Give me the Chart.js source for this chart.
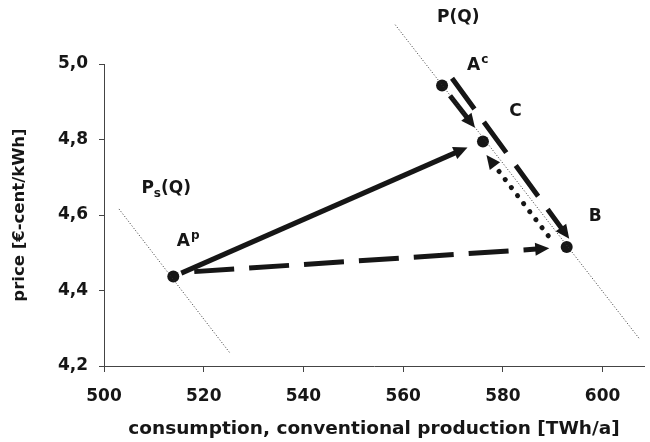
<!DOCTYPE html>
<html>
<head>
<meta charset="utf-8">
<script src="https://cdn.jsdelivr.net/npm/chart.js@4"></script>
<style>
  html, body { margin: 0; padding: 0; background: #fff; }
  #wrap { width: 650px; height: 442px; }
</style>
</head>
<body>
<div id="wrap"><canvas id="chart" width="650" height="442"></canvas></div>
<script>
// ticks
const xTicks = [500, 520, 540, 560, 580, 600];
const yTicks = [4.2, 4.4, 4.6, 4.8, 5.0];

// market states A^p, A^c, C, B  (quantity TWh/a, price ct/kWh)
const stateQ = [513.9, 567.8, 576.0, 592.8];
const stateP = [4.437, 4.943, 4.795, 4.515];

// price curves P(Q) and Ps(Q)
const demandQ = [558.4, 607.5];
const demandP = [5.104, 4.27];
const supplyQ = [503.0, 525.4];
const supplyP = [4.616, 4.232];

// arrows, [start, tip]
const arrowApCQ = [515.5, 572.9];   // A^p -> C, solid
const arrowApCP = [4.446, 4.779];
const arrowApBQ = [518.1, 589.3];   // A^p -> B, dashed
const arrowApBP = [4.450, 4.512];
const arrowAcCQ = [569.4, 574.4];   // A^c -> C
const arrowAcCP = [4.916, 4.831];
const arrowAcBQ = [569.8, 593.3];   // A^c -> B, dashed
const arrowAcBP = [4.962, 4.537];
const arrowBCQ = [589.1, 576.7];    // B -> C, dotted
const arrowBCP = [4.545, 4.759];

// text labels (left edge, vertical centre)
const labelText = ['P(Q)', 'A', 'C', 'B', 'P', 'A'];
const labelSup = ['', 'c', '', '', '', 'p'];
const labelSub = ['', '', '', '', 's', ''];
const labelRest = ['', '', '', '', '(Q)', ''];
const labelQ = [566.8, 572.8, 581.3, 597.2, 507.5, 514.6];
const labelP = [5.122, 4.996, 4.874, 4.596, 4.669, 4.530];

const FONT = 'DejaVu Sans';
const INK = '#161616';
const HEAD_L = 14, HEAD_W = 6.5;

const pts = (qs, ps) => qs.map((q, i) => ({ x: q, y: ps[i] }));

function arrowSet(qs, ps, dash, cap) {
  return {
    data: pts(qs, ps),
    arrow: true,
    borderColor: INK,
    borderWidth: 5,
    borderDash: dash,
    borderCapStyle: cap || 'butt',
    pointRadius: 0,
    fill: false,
    clip: false
  };
}

// shorten shafts so they end under the head, then draw heads
const arrowPlugin = {
  id: 'arrows',
  beforeDatasetsDraw(chart) {
    const xs = chart.scales.x, ys = chart.scales.y;
    chart.data.datasets.forEach((ds, i) => {
      if (!ds.arrow) return;
      const meta = chart.getDatasetMeta(i);
      const a = ds.data[0], b = ds.data[1];
      const x0 = xs.getPixelForValue(a.x), y0 = ys.getPixelForValue(a.y);
      const x1 = xs.getPixelForValue(b.x), y1 = ys.getPixelForValue(b.y);
      const len = Math.hypot(x1 - x0, y1 - y0);
      const ux = (x1 - x0) / len, uy = (y1 - y0) / len;
      meta.data[1].x = x1 - ux * HEAD_L * 0.7;
      meta.data[1].y = y1 - uy * HEAD_L * 0.7;
      if (meta.dataset) meta.dataset._path = undefined;
    });
  },
  afterDatasetsDraw(chart) {
    const ctx = chart.ctx;
    const xs = chart.scales.x, ys = chart.scales.y;
    ctx.save();
    ctx.fillStyle = INK;
    chart.data.datasets.forEach(ds => {
      if (!ds.arrow) return;
      const a = ds.data[0], b = ds.data[1];
      const x0 = xs.getPixelForValue(a.x), y0 = ys.getPixelForValue(a.y);
      const x1 = xs.getPixelForValue(b.x), y1 = ys.getPixelForValue(b.y);
      const len = Math.hypot(x1 - x0, y1 - y0);
      const ux = (x1 - x0) / len, uy = (y1 - y0) / len;
      ctx.beginPath();
      ctx.moveTo(x1, y1);
      ctx.lineTo(x1 - ux * HEAD_L - uy * HEAD_W, y1 - uy * HEAD_L + ux * HEAD_W);
      ctx.lineTo(x1 - ux * HEAD_L + uy * HEAD_W, y1 - uy * HEAD_L - ux * HEAD_W);
      ctx.closePath();
      ctx.fill();
    });
    ctx.restore();
  }
};

const labelPlugin = {
  id: 'labels',
  afterDraw(chart) {
    const ctx = chart.ctx;
    const xs = chart.scales.x, ys = chart.scales.y;
    ctx.save();
    ctx.fillStyle = INK;
    ctx.textBaseline = 'middle';
    ctx.textAlign = 'left';
    labelText.forEach((t, i) => {
      let x = xs.getPixelForValue(labelQ[i]);
      const y = ys.getPixelForValue(labelP[i]);
      ctx.font = 'bold 17px "' + FONT + '"';
      ctx.fillText(t, x, y);
      x += ctx.measureText(t).width;
      if (labelSup[i]) {
        ctx.font = 'bold 12px "' + FONT + '"';
        ctx.fillText(labelSup[i], x + 1, y - 6);
        x += ctx.measureText(labelSup[i]).width + 1;
      }
      if (labelSub[i]) {
        ctx.font = 'bold 12px "' + FONT + '"';
        ctx.fillText(labelSub[i], x, y + 5);
        x += ctx.measureText(labelSub[i]).width;
      }
      if (labelRest[i]) {
        ctx.font = 'bold 17px "' + FONT + '"';
        ctx.fillText(labelRest[i], x, y);
      }
    });
    ctx.restore();
  }
};

const ctx = document.getElementById('chart').getContext('2d');
new Chart(ctx, {
  type: 'line',
  data: {
    datasets: [
      { data: pts(demandQ, demandP), borderColor: '#333', borderWidth: 1, borderDash: [1, 2],
        pointRadius: 0, fill: false, clip: false },
      { data: pts(supplyQ, supplyP), borderColor: '#333', borderWidth: 1, borderDash: [1, 2],
        pointRadius: 0, fill: false, clip: false },
      arrowSet(arrowApCQ, arrowApCP, []),
      arrowSet(arrowApBQ, arrowApBP, [40, 15]),
      arrowSet(arrowAcCQ, arrowAcCP, []),
      arrowSet(arrowAcBQ, arrowAcBP, [38, 16]),
      arrowSet(arrowBCQ, arrowBCP, [0.1, 10], 'round'),
      { data: pts(stateQ, stateP), showLine: false, pointRadius: 6, pointBackgroundColor: INK,
        pointBorderWidth: 0, clip: false }
    ]
  },
  options: {
    responsive: false,
    animation: false,
    layout: { padding: { top: 64, left: 0, right: 0, bottom: 0 } },
    plugins: { legend: { display: false }, tooltip: { enabled: false } },
    scales: {
      x: {
        type: 'linear',
        min: 500,
        max: 608.3,
        afterBuildTicks: s => { s.ticks = xTicks.map(v => ({ value: v })); },
        afterFit: s => { s.height = 76; },
        grid: { drawOnChartArea: false, tickLength: 6, color: '#444' },
        border: { color: '#444' },
        ticks: { font: { family: FONT, size: 17, weight: 'bold' }, color: INK, padding: 14 },
        title: { display: true, text: 'consumption, conventional production [TWh/a]',
          font: { family: FONT, size: 18.5, weight: 'bold' }, color: INK, padding: { top: 0, bottom: 2 } }
      },
      y: {
        type: 'linear',
        min: 4.2,
        max: 5.0,
        afterBuildTicks: s => { s.ticks = yTicks.map(v => ({ value: v })); },
        afterFit: s => { s.width = 104; },
        grid: { drawOnChartArea: false, tickLength: 5, color: '#444' },
        border: { color: '#444' },
        ticks: { font: { family: FONT, size: 17, weight: 'bold' }, color: INK, padding: 11,
          callback: v => v.toFixed(1).replace('.', ',') },
        title: { display: true, text: 'price [€-cent/kWh]',
          font: { family: FONT, size: 16.5, weight: 'bold' }, color: INK, padding: { top: 10, bottom: 0 } }
      }
    }
  },
  plugins: [arrowPlugin, labelPlugin]
});
</script>
</body>
</html>
